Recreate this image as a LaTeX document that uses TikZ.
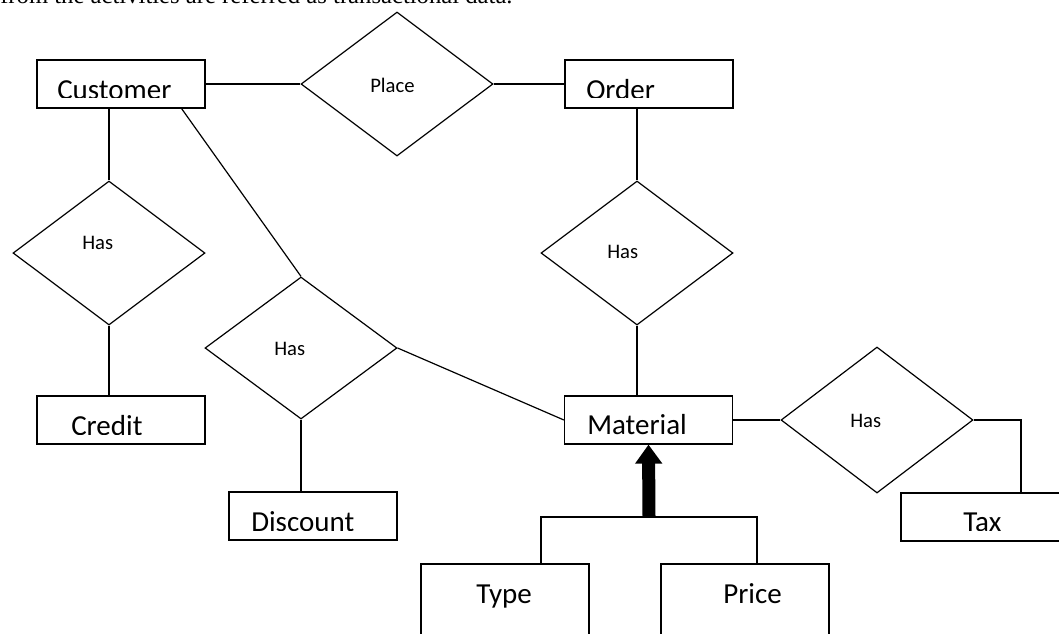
\documentclass[tikz,border=0pt]{standalone}
\usepackage{fontspec}
\setmainfont{Carlito}
\newfontfamily\introfont{Liberation Serif}
\usetikzlibrary{shapes.geometric,arrows.meta}
\tikzset{
  ent/.style={draw, line width=0.9pt, rectangle, inner sep=0pt, minimum width=126pt, minimum height=36pt},
  rel/.style={draw, line width=0.9pt, diamond, inner sep=0pt, minimum width=144pt, minimum height=108pt},
  big/.style={font=\fontsize{21.75}{26}\selectfont, inner sep=0pt, anchor=base west},
  small/.style={font=\fontsize{15.5}{18}\selectfont, inner sep=0pt, anchor=base west},
  conn/.style={line width=0.9pt}
}
\newcommand\boxlabel[5]{%
  \begin{scope}\clip (0,0) rectangle (1059,#3);
  \node[big] (#4) at (#1,#2) {#5};
  \end{scope}}
\begin{document}
\begin{tikzpicture}[x=0.75pt,y=-0.75pt]
\useasboundingbox (0,0) rectangle (1059,633);
\clip (0,0) rectangle (1059,633);

% cut-off line of the surrounding text
\node[font=\introfont\fontsize{18.5}{22}\selectfont, anchor=base west, inner sep=0pt] (intro) at (0,3) {from the activities are referred as transactional data.};

% entities
\node[ent] (cust)   at (121,84)  {};
\node[ent] (order)  at (649,84)  {};
\node[ent] (credit) at (121,420) {};
\node[ent] (disc)   at (313,516) {};
\node[ent] (mat)    at (648.5,420) {};
\node[ent] (tax)    at (985,517) {};
\node[ent, minimum height=72pt] (type)  at (505,612) {};
\node[ent, minimum height=72pt] (price) at (745,612) {};

% relationships
\node[rel] (place) at (397,84)  {};
\node[rel] (has1)  at (109,253) {};
\node[rel, minimum height=106.5pt] (has2) at (301,348) {};
\node[rel] (has3)  at (637,253) {};
\node[rel, minimum height=109.5pt] (has4) at (877,420) {};

% labels
\boxlabel{57}{99}{97.5}{tcust}{Customer}
\boxlabel{586}{99.5}{97.5}{torder}{Order}
\boxlabel{71}{435.5}{434}{tcredit}{Credit}
\boxlabel{251}{531.5}{530}{tdisc}{Discount}
\boxlabel{587}{434.5}{434}{tmat}{Material}
\boxlabel{963}{531}{530}{ttax}{Tax}
\node[big] (ttype)  at (476,603) {Type};
\node[big] (tprice) at (723,603) {Price};
\node[small] (tplace) at (370,92)  {Place};
\node[small] (thas1)  at (82,249)  {Has};
\node[small] (thas2)  at (274,355) {Has};
\node[small] (thas3)  at (607,258) {Has};
\node[small] (thas4)  at (850,427) {Has};

% connectors
\draw[conn] (cust.east) -- (place.west);
\draw[conn] (place.east) -- (order.west);
\draw[conn] (has1.north |- cust.south) -- (has1.north);
\draw[conn] (has1.south) -- (has1.south |- credit.north);
\draw[conn] ([xshift=-18pt]cust.south east) -- (has2.north);
\draw[conn] (has2.south) -- (has2.south |- disc.north);
\draw[conn] (has2.east) -- (mat.west);
\draw[conn] (has3.north |- order.south) -- (has3.north);
\draw[conn] (has3.south) -- (has3.south |- mat.north);
\draw[conn] (mat.east) -- (has4.west);
\coordinate (tj) at (1021,493);
\draw[conn] (has4.east) -| (tj);

% generalisation
\coordinate (bl) at (541,517);
\coordinate (br) at (757,517);
\coordinate (aj) at (649,517);
\draw[conn] (bl |- type.north) -- (bl) -- (br) -- (br |- price.north);
\draw[line width=9.75pt, -{Triangle[width=19.5pt,length=14.25pt]}] (aj) -- (mat.south);
\end{tikzpicture}
\end{document}
